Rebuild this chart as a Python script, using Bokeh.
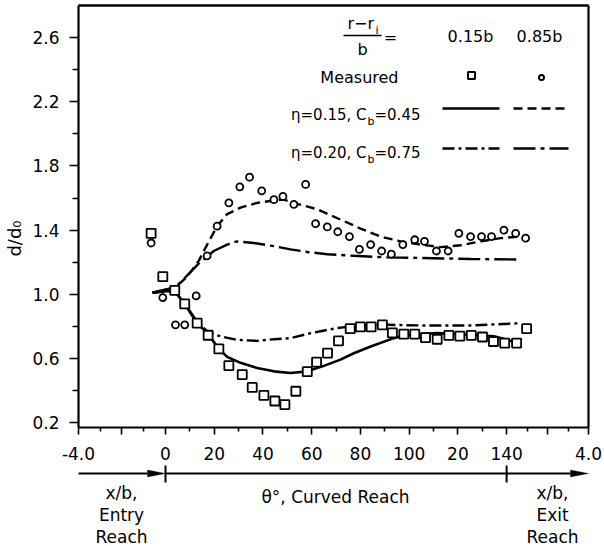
from bokeh.plotting import figure
from bokeh.models import Range1d, FixedTicker, Label, Arrow, PolyAnnotation, LinearAxis
from bokeh.embed import file_html
from bokeh.resources import INLINE

# ---------------- composite x axis: entry x/b | theta (deg) | exit x/b ----------------
ENTRY_UNIT = 35.7 / 4      # axis units per x/b in the entry reach
EXIT_UNIT = 33.6 / 4       # axis units per x/b in the exit reach
THETA_END = 140

# ---------------- data (station in axis units, d/d0) ----------------
# measured, r-ri/b = 0.15b (squares)
sq_x = [-5.9, -1.1, 3.8, 7.9, 13.0, 17.5, 21.9, 26.0, 31.5, 35.6, 40.4, 44.9, 49.0, 53.5,
        58.2, 62.0, 66.5, 71.0, 75.8, 80.0, 84.4, 89.0, 93.1, 97.8, 102.3, 106.7, 111.5,
        116.3, 120.8, 125.5, 130.1, 134.6, 139.2, 144.1, 148.2]
sq_y = [1.38, 1.11, 1.025, 0.94, 0.82, 0.745, 0.66, 0.555, 0.50, 0.42, 0.37, 0.335, 0.313,
        0.396, 0.518, 0.577, 0.633, 0.71, 0.786, 0.797, 0.797, 0.81, 0.76, 0.752, 0.752,
        0.73, 0.72, 0.744, 0.74, 0.744, 0.734, 0.706, 0.696, 0.696, 0.786]
# measured, 0.85b (circles)
ci_x = [-5.9, -1.1, 4.1, 7.9, 12.6, 17.1, 21.2, 26.0, 30.5, 34.5, 39.5, 44.5, 48.2, 52.7,
        57.5, 61.6, 66.4, 70.7, 75.5, 79.6, 84.2, 88.7, 92.7, 97.4, 102.3, 106.3, 111.2,
        116.0, 120.4, 125.2, 129.7, 133.8, 138.9, 143.7, 147.8]
ci_y = [1.32, 0.98, 0.81, 0.81, 0.99, 1.24, 1.425, 1.57, 1.67, 1.73, 1.645, 1.59, 1.61, 1.56,
        1.685, 1.44, 1.42, 1.39, 1.36, 1.28, 1.31, 1.27, 1.25, 1.31, 1.34, 1.33, 1.27,
        1.27, 1.38, 1.36, 1.36, 1.36, 1.40, 1.38, 1.35]
# eta=0.15, Cb=0.45 : 0.15b (solid)
a_x = [-5.3, 0, 3.8, 7.9, 13.0, 17.3, 21.9, 25.3, 30.8, 37.6, 44.5, 51.3, 58.2, 65.0, 71.8,
       77.3, 84.2, 93.7, 99.2, 111.5, 125.2, 134.8, 140.3, 145.7]
a_y = [1.01, 1.02, 1.02, 0.94, 0.82, 0.755, 0.66, 0.61, 0.573, 0.541, 0.52, 0.51, 0.52,
       0.554, 0.593, 0.633, 0.675, 0.727, 0.748, 0.758, 0.748, 0.738, 0.717, 0.686]
# eta=0.15, Cb=0.45 : 0.85b (dashed)
b_x = [-5.3, 0, 3.8, 8.9, 13.7, 17.1, 21.2, 25.3, 30.8, 37.6, 44.5, 48.6, 54.1, 62.3, 71.8,
       80.0, 88.3, 96.5, 104.7, 112.9, 121.1, 129.3, 137.5, 145.7]
b_y = [1.01, 1.03, 1.04, 1.11, 1.21, 1.31, 1.425, 1.50, 1.54, 1.57, 1.585, 1.59, 1.564,
       1.53, 1.466, 1.41, 1.36, 1.33, 1.31, 1.294, 1.306, 1.33, 1.35, 1.36]
# eta=0.20, Cb=0.75 : 0.15b (dash-dot)
c_x = [-5.3, 0, 3.8, 7.9, 13.0, 17.1, 19.8, 23.9, 29.4, 37.6, 44.5, 51.3, 58.2, 63.6, 70.5,
       80.0, 91.0, 104.7, 125.2, 145.7]
c_y = [1.01, 1.02, 1.02, 0.94, 0.83, 0.77, 0.75, 0.734, 0.716, 0.71, 0.72, 0.727, 0.753,
       0.77, 0.79, 0.806, 0.81, 0.806, 0.806, 0.82]
# eta=0.20, Cb=0.75 : 0.85b (long dash-dot)
d_x = [-5.3, 0, 3.8, 7.8, 13.5, 17.1, 19.8, 25.3, 29.4, 36.2, 44.5, 51.3, 58.2, 66.4, 77.3,
       91.0, 104.7, 125.2, 145.7]
d_y = [1.01, 1.03, 1.04, 1.10, 1.19, 1.235, 1.27, 1.31, 1.33, 1.32, 1.30, 1.28, 1.264,
       1.25, 1.24, 1.23, 1.227, 1.22, 1.217]

# ---------------- ticks ----------------
x_major = [-4 * ENTRY_UNIT, -2 * ENTRY_UNIT, 0, 20, 40, 60, 80, 100, 120, 140,
           THETA_END + 2 * EXIT_UNIT, THETA_END + 4 * EXIT_UNIT]
x_labels = ["-4.0", "", "0", "20", "40", "60", "80", "100", "20", "140", "", "4.0"]
x_minor = [-3 * ENTRY_UNIT, -1 * ENTRY_UNIT, 10, 30, 50, 70, 90, 110, 130,
           THETA_END + EXIT_UNIT, THETA_END + 3 * EXIT_UNIT]
y_major = [0.2, 0.6, 1.0, 1.4, 1.8, 2.2, 2.6]
y_labels = ["0.2", "0.6", "1.0", "1.4", "1.8", "2.2", "2.6"]
y_minor = [0.4, 0.8, 1.2, 1.6, 2.0, 2.4]

X_LO, X_HI = x_major[0], x_major[-1]
Y_LO, Y_HI = 0.17, 2.8

FONT = "DejaVu Sans"
W, H = 604, 546
FX, FY, FR, FB = 78, 5, 16, 119   # plot box inset from the canvas edges (left, top, right, bottom)
FW, FH = W - FX - FR, H - FY - FB
KX = FW / (X_HI - X_LO)           # px per x unit
KY = FH / (Y_HI - Y_LO)           # px per y unit

# the drawing area spans the whole canvas; the box of axes is drawn inside it
p = figure(width=W, height=H,
           x_range=Range1d(X_LO - FX / KX, X_HI + FR / KX),
           y_range=Range1d(Y_LO - FB / KY, Y_HI + FY / KY),
           x_axis_location=None, y_axis_location=None,
           output_backend="svg", toolbar_location=None, min_border=0)
p.background_fill_color = "white"
p.border_fill_color = "white"
p.outline_line_color = None
p.xgrid.visible = False
p.ygrid.visible = False


def style_axis(ax):
    ax.major_tick_in = 0
    ax.minor_tick_in = 0
    ax.axis_line_width = 2.2
    ax.axis_line_color = "black"
    ax.major_tick_line_width = 1.6
    ax.minor_tick_line_width = 1.6
    ax.major_label_text_font = FONT
    ax.major_label_text_font_size = "17px"
    ax.major_label_text_color = "black"


xa = LinearAxis(fixed_location=Y_LO, bounds=(X_LO, X_HI),
                ticker=FixedTicker(ticks=x_major, minor_ticks=x_minor),
                major_label_overrides={t: l for t, l in zip(x_major, x_labels)})
style_axis(xa)
xa.major_tick_out = 7
xa.minor_tick_out = 4
xa.major_label_standoff = 12
p.add_layout(xa, "below")

ya = LinearAxis(fixed_location=X_LO, bounds=(Y_LO, Y_HI),
                ticker=FixedTicker(ticks=y_major, minor_ticks=y_minor),
                major_label_overrides={t: l for t, l in zip(y_major, y_labels)})
style_axis(ya)
ya.major_tick_out = 9
ya.minor_tick_out = 6
ya.major_label_standoff = 10
p.add_layout(ya, "left")

# top and right borders of the box: bare axes
ta = LinearAxis(fixed_location=Y_HI, bounds=(X_LO, X_HI), ticker=FixedTicker(ticks=[]),
                major_label_text_font_size="0px", major_tick_line_color=None,
                minor_tick_line_color=None, axis_line_width=2.6)
p.add_layout(ta, "above")
ra = LinearAxis(fixed_location=X_HI, bounds=(Y_LO, Y_HI), ticker=FixedTicker(ticks=[]),
                major_label_text_font_size="0px", major_tick_line_color=None,
                minor_tick_line_color=None, axis_line_width=2.2)
p.add_layout(ra, "right")

# ---------------- curves and points ----------------
p.line(a_x, a_y, line_color="black", line_width=2.6)
p.line(b_x, b_y, line_color="black", line_width=2.4, line_dash="9 5")
p.line(c_x, c_y, line_color="black", line_width=2.4, line_dash="12 4 3 4")
p.line(d_x, d_y, line_color="black", line_width=2.4, line_dash="22 5 4 5")
p.scatter(sq_x, sq_y, marker="square", size=9, line_color="black", line_width=1.8,
          fill_color="white")
p.scatter(ci_x, ci_y, marker="circle", size=7, line_color="black", line_width=1.8,
          fill_color="white")


# ---------------- helpers (canvas pixel positions) ----------------
def to_canvas_x(v):
    return FX + (v - X_LO) * KX


def txt(x, y, s, size, align="center", baseline="middle", angle=0.0):
    p.add_layout(Label(x=x, y=y, x_units="canvas", y_units="canvas", text=s,
                       text_font=FONT, text_font_size=f"{size}px", text_align=align,
                       text_baseline=baseline, angle=angle, text_color="black"))


def seg(x0, y0, x1, y1, width=2.0, dash="solid"):
    p.add_layout(Arrow(x_start=x0, y_start=y0, x_end=x1, y_end=y1, end=None,
                       start_units="canvas", end_units="canvas",
                       line_width=width, line_dash=dash, line_color="black"))


# y axis title
txt(14, 238, "d/d₀", 18, angle=1.5708)

# ---------------- legend ----------------
txt(347, 23, "r−r", 16, align="left")
txt(375, 30, "i", 11, align="left")
seg(343, 35, 381, 35, width=1.5)
txt(362, 49, "b", 16)
txt(390, 37, "=", 16)
txt(470, 36, "0.15b", 16)
txt(539, 36, "0.85b", 16)
txt(398, 77, "Measured", 16, align="right")
LEG_SQ = (471, 75)
LEG_CI = (541, 77)
p.scatter([X_LO + (LEG_SQ[0] - FX) / KX], [Y_HI - (LEG_SQ[1] - FY) / KY], marker="square",
          size=7, line_color="black", line_width=2, fill_color="white")
p.scatter([X_LO + (LEG_CI[0] - FX) / KX], [Y_HI - (LEG_CI[1] - FY) / KY], marker="circle",
          size=5, line_color="black", line_width=2, fill_color="white")

for ty, ly, eta, cb, d1, d2 in [(114, 108, "η=0.15, C", "=0.45", "solid", "9 5"),
                                (152, 148, "η=0.20, C", "=0.75", "12 4 3 4", "22 5 4 5")]:
    txt(366, ty, eta, 15, align="right")
    txt(367, ty + 7, "b", 11, align="left")
    txt(374, ty, cb, 15, align="left")
    seg(442, ly, 499, ly, width=2.4, dash=d1)
    seg(513, ly, 568, ly, width=2.4, dash=d2)

# ---------------- reach arrow below the axis ----------------
AY = 473
HEAD = 18
x0c, xlo_c, xhi_c, x140c = (to_canvas_x(0), to_canvas_x(X_LO), to_canvas_x(X_HI),
                            to_canvas_x(THETA_END))
seg(xlo_c, AY, x0c - HEAD, AY, width=2)
seg(x0c, AY, xhi_c - HEAD, AY, width=2)
for xe in (x0c, xhi_c):
    p.add_layout(PolyAnnotation(xs=[xe - HEAD, xe, xe - HEAD], ys=[AY - 3.5, AY, AY + 3.5],
                                xs_units="canvas", ys_units="canvas",
                                fill_color="black", fill_alpha=1.0,
                                line_color="black", line_width=1))
for xt in (x0c, x140c):
    seg(xt, AY - 8, xt, AY + 9, width=2)

txt(121, 492, "x/b,", 17)
txt(121, 514, "Entry", 17)
txt(121, 536, "Reach", 17)
txt(335, 496, "θ°, Curved Reach", 17)
txt(552, 492, "x/b,", 17)
txt(552, 514, "Exit", 17)
txt(552, 536, "Reach", 17)

open("out.html", "w").write(file_html(p, INLINE))
